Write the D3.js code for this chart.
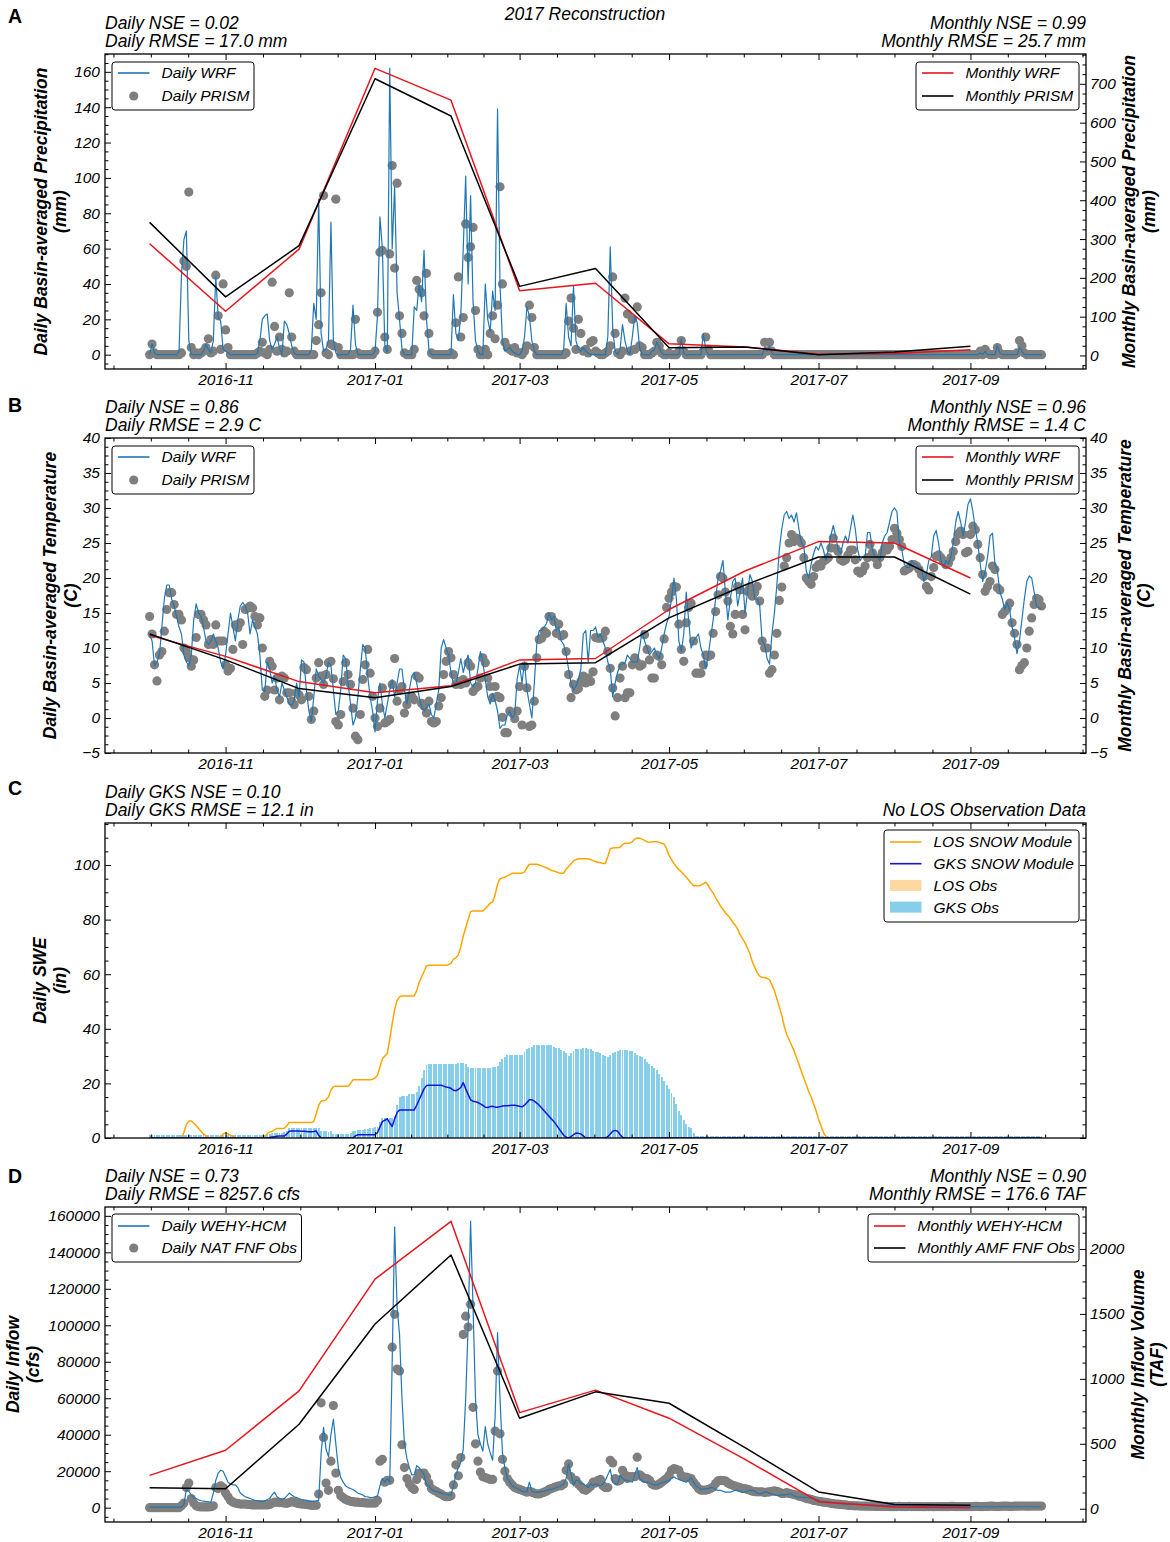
<!DOCTYPE html>
<html>
<head>
<meta charset="utf-8">
<script src="https://cdn.jsdelivr.net/npm/d3@7"></script>
<style>
    body { margin: 0; background: #fff; }
</style>
</head>
<body>
<svg id="fig" width="1170" height="1542"></svg>
<script>
// daily values run from 2016-10-01 to 2017-09-30, one number per day, grouped by month

// ---- panel A : precipitation (mm) ----
var precipWrf = [
    0,6,1,0,0,0,0,0,0,0, 0,0,2,45,65,70,8,0,0,0, 0,0,2,6,3,1,8,44,21,19, 3,
    2,1,0,0,0,0,0,0,0,0, 0,0,0,1,8,20,22,23,8,3, 6,10,4,0,19,17,12,5,1,0,
    0,0,0,0,0,3,29,20,88,12, 2,3,8,75,8,1,0,0,0,0, 0,3,28,6,0,0,0,0,0,0, 0,
    2,22,78,60,5,1,162,60,95,35, 20,3,0,0,0,0,27,25,40,30, 59,20,3,0,0,0,0,0,0,0, 0,
    0,34,12,8,22,60,101,40,90,30, 8,2,0,0,40,20,13,36,25,139, 40,8,2,3,4,2,1,0,
    0,2,10,27,22,8,2,0,0,0, 0,0,0,0,0,0,0,0,3,29, 10,5,39,8,3,2,4,2,1,0, 0,
    0,0,0,0,0,10,61,15,2,0, 3,17,8,2,0,10,22,18,4,0, 0,0,0,2,3,7,4,1,0,0,
    0,0,0,0,0,9,1,0,0,0, 0,0,0,0,12,3,0,0,0,0, 0,0,0,0,0,0,0,0,0,0, 0,
    0,0,0,0,0,0,0,0,4,2, 5,1,0,0,0,0,0,0,0,0, 0,0,0,0,0,0,0,0,0,0,
    0,0,0,0,0,0,0,0,0,0, 0,0,0,0,0,0,0,0,0,0, 0,0,0,0,0,0,0,0,0,0, 0,
    0,0,0,0,0,0,0,0,0,0, 0,0,0,0,0,0,0,0,0,0, 0,0,0,0,0,0,0,0,0,0, 0,
    0,0,0,0,1,0,2,0,0,0, 0,5,1,0,0,0,0,0,0,0, 4,2,0,0,0,0,0,0,0,0
];
var precipPrism = [
    0,6,1,0,0,0,0,0,0,0, 0,0,0,1,53,50,92,4,0,1, 0,1,2,4,9,1,2,45,22,3, 40,
    14,4,0,0,0,0,0,0,0,0, 0,0,0,1,2,7,1,0,3,41, 16,2,10,3,1,2,35,10,2,0,
    0,0,0,0,0,0,0,8,17,35, 90,1,0,6,5,88,4,0,0,0, 0,0,0,20,1,0,0,0,0,0, 0,
    2,24,58,59,10,3,57,107,49,97, 22,12,1,0,0,0,3,42,37,35, 22,46,12,1,0,0,0,0,0,0, 0,
    1,0,18,44,10,21,74,55,61,72, 25,3,0,0,3,0,12,22,9,28, 95,40,7,4,3,2,4,1,
    1,0,2,5,28,21,4,0,0,0, 0,0,0,0,0,0,0,0,0,1, 19,32,15,3,20,12,2,3,1,7, 8,
    2,1,0,0,1,2,5,44,12,1, 0,2,32,23,2,20,3,27,5,4, 0,0,0,1,2,7,5,1,0,0,
    1,0,0,0,2,8,2,0,0,0, 0,0,0,0,2,10,3,0,0,0, 0,0,0,0,0,0,0,0,0,0, 0,
    0,0,0,0,0,0,0,0,7,2, 7,2,0,0,0,0,0,0,0,0, 0,0,0,0,0,0,0,0,0,0,
    0,0,0,0,0,0,0,0,0,0, 0,0,0,0,0,0,0,0,0,0, 0,0,0,0,0,0,0,0,0,0, 0,
    0,0,0,0,0,0,0,0,0,0, 0,0,0,0,0,0,0,0,0,0, 0,0,0,0,0,0,0,0,0,0, 0,
    0,0,0,0,2,0,3,1,0,0, 0,4,1,0,0,0,0,0,0,1, 8,5,1,0,0,0,0,0,0,0
];
var precipWrfMonthly = [288, 114, 274, 740, 658, 167, 186, 30, 22, 3, 5, 15];
var precipPrismMonthly = [343, 151, 283, 713, 617, 178, 224, 20, 22, 2, 9, 24];

// ---- panel B : temperature (C) ----
var tempWrf = [
    12,11,7.5,8,9,13,17,19,19,17, 16,14.5,13,12,9,8,7.5,9,14,16.3, 15,14.5,13,11,10.5,11,12,11,10,8, 7,
    9,12,15,13,11,14,16,16.5,16,15, 12,14,13,12,9,4,3.8,8,7,5, 6,4,3,5,4,3,2,1.8,2.5,5,
    3,8.3,8,4,1,-0.5,3,7,6,5.5, 5,6,8,7.5,4,0.5,1,4,9,8.5, 5,2,-1,0,3,7,10.5,10,6,3, 1,
    -2,2.5,5,2,0,2,4,5.5,3,5, 7,7,4,2,4,6,6.5,5,3,1.5, 1,1.5,2,0.5,0,2,4,10,11.2,10, 9,
    6.5,5,4.8,6.5,8.5,6.5,8,9,5,4.5, 5,7,9.5,8,5.5,3,2,3.5,2.5,1, -1.5,-1,-1,0.5,1,0,0.5,5.5,
    7.5,5,8,4,2,0,5,10.5,12.5,12.5, 13,13.5,15,14,14.5,12.5,13,11,10.5,9, 7,5,4,4.5,5.5,7,12,12.5,8,12.5, 12.5,
    13,11.5,12,11,10,8,7,3,5,6.5, 7.5,7.8,7.8,9,8.5,8,8,8,10,12.5, 11,10,9,9.5,10,9,8.5,10,12,13.5,
    14.5,17,20,17,11,9.5,12,18,14,10, 11,11.5,12,10,9,7,9,11.5,14,17, 20,21,22.5,18,14,17,19.5,20,16,18, 20,
    15,18,20.5,19.5,17,17,16,11,10.5,8.5, 7.7,12,15,19,24,27,29,29.5,28.5,29, 28,29.3,27,25,24.5,21,20,22,23.5,24.5,
    24,25,24,22.5,24,26,27.5,26,24,23.5, 25,26,25,27,29,27,24,22.5,23,23, 26.5,26.5,24,23,23,22.5,25,26,26.5,28, 29.5,
    30,29.5,25,24,22,21.5,21.5,22.5,22,22, 21.5,21.5,19.5,20.5,22.5,23,26,26.8,25,22.5, 21.5,22.5,22,23,25,28,29.5,28,26,28, 30.5,
    31.3,29.5,27,25,22,19.5,21,23,26,26.4, 22,21,18,17,15.5,16.5,15.5,13,11.5,9.2, 11,14,17,19.5,20.3,20,18,16,15.7,15.7
];
var tempPrism = [
    14.5,12,7.6,5.3,9,9.5,12.4,15.5,17.9,17.9, 16.2,14.8,14.8,14,10,9.5,8.6,7.4,8.3,11.5, 14.8,14.8,14,13.3,10.5,11.2,10.5,13.3,11,11, 11,
    7.6,6.7,7.1,9.8,13.3,12.9,13.6,10.5,15.5,15.7, 16,15.7,14.5,13.3,14.3,10,3.1,4,8.1,7.4, 4,5.7,2.6,6,5.7,3.6,3.6,2.4,1.9,3.6,
    3.3,2.6,7.2,6.9,3.1,-0.2,1,5.7,7.9,6, 4.8,6.2,7.9,8.1,5.6,-0.5,-1,0.5,5.2,7.9, 6.2,4.8,1.4,-2.6,-3.1,0.5,5.5,7.6,9.8,6.4, 3.1,
    0,-1.2,1.4,4.3,-0.7,-0.5,-0.2,4.8,8.5,2.4, 4,4.5,0.7,1.9,2.9,3.1,2.6,6,5.7,2.1, 1.7,0.7,2.4,-0.5,-0.7,-0.5,1.7,2.9,6.2,8.1, 9.5,
    8.6,6.2,4.8,5.2,4.8,5.5,5,7.9,7.4,3.8, 4.3,4.5,5.7,8.6,7.9,5.7,4.5,2.9,4.5,3.1, 2.9,0.1,-2.1,-2.1,1,0.7,-0.1,1,
    4.5,-1,7.4,4.3,-1.2,-1,2.4,8.6,11.2,11.4, 12.4,12.1,14.5,14.5,13.8,12.1,13.4,11.7,11.9,9.5, 6.2,2.9,4.8,4,4.2,5.2,6,5,5.7,5.2, 6.6,
    11.5,11.4,11.4,11.5,12.4,9.5,7.1,4.3,0.3,2.9, 5.7,7.4,2.9,3.6,3.6,7.6,8.6,7.9,7.4,7.6, 11.9,9.8,8.3,5.7,5.7,9,8.8,7.6,11.3,15.8,
    17.1,18,18.8,18.7,13.4,9.8,8.1,13.6,15.8,16.4, 11,6.4,6.4,6.4,7.6,9,8.8,9,12.1,15.2, 17.6,20.2,20,18,16.7,13.1,12,14.8,18.8,18.3, 14.8,
    12.6,18.1,18.7,17.4,18,18.8,16.7,11,10,10, 6.4,6.9,9,12.1,16.8,18.7,21.7,22.9,25,26.2, 25.2,25.7,25.5,25,22.9,20,19.5,19.1,20.2,21.5,
    21.9,21.7,22.4,22.6,22.9,24.3,25.7,24.2,23.8,22.6, 22.4,22.6,23.3,24,24,22.6,21,20.7,21,21.7, 22.9,24.8,23.6,22.9,21.9,22.9,23.6,24.3,24,24.5, 25.5,
    27.1,26.4,25.5,24.5,21,21.2,21.4,21.9,21.9,21.7, 21.2,20.5,20.2,18.8,18.3,20.2,21.5,23.1,23.3,22.9, 22.4,21.9,22.1,22.9,23.8,25.2,26.3,26.7,26.2,23.6, 23.8,
    26.2,27.4,26.9,24.8,22.9,20.5,18.1,18.8,19.5,21.7, 21.2,18.6,18.3,14.8,15.2,15.7,16.4,13.6,12.1,10.5, 6.9,7.5,7.9,10,12.4,14.3,16.2,17.1,16.9,16
];
var tempWrfMonthly = [11.8, 8.8, 5.2, 3.6, 4.6, 8.3, 8.5, 15.5, 21, 25.2, 25, 20];
var tempPrismMonthly = [12, 8.3, 4.2, 2.9, 4.5, 7.7, 7.9, 14.3, 19, 23, 23, 17.7];

// ---- panel C : snow water equivalent (in) ----
var losSnowModule = [
    0,0,0,0,0,0,0,0,0,0, 0,0,0,0,2,5,6.2,6.2,5.5,4.5, 3.5,2.5,1.5,0.8,0.3,0,0,0,0,0.5, 1.5,
    1.8,1.5,1,0.5,0.2,0,0,0,0,0, 0,0,0,0,0,0,0.5,1.5,2.2,2.5, 3,3.5,3.5,3.5,3.6,4.5,5.7,5.7,5.7,5.7,
    5.7,5.7,5.7,5.7,5.7,5.7,6,9,12,13.5, 13.7,14,15,17.5,18.8,19,19,19,19,19, 19,20,21.3,21.3,21.3,21.3,21.3,21.3,21.3,21.3, 21.5,
    22,23,26,29,30,31,36,42,47,50.5, 51.7,52,52,52,52,52,52,54,57,59, 61,63,63.3,63.3,63.3,63.3,63.3,63.3,63.3,63.3, 63.5,
    64,65.5,66,67,70,74,77,80,83,83.2, 83.2,83.2,83.2,83.2,84,85,86,86.5,89,93, 95,95.3,95.5,96,96.5,97,97,97,
    97,97,97.5,99,100.3,100.3,100.3,100.3,100,99.7, 99.3,99,98.5,98,97.8,97.5,97.2,97,97,98.5, 99.5,100.5,101.5,102,102.3,102.3,102.3,102.3,102.2,102, 101.6,
    101.3,101,100.8,100.6,100.6,103,106,106.2,106.3,106.3, 106.5,107.5,108,108,108,108.5,109.5,109.9,109.8,109.5, 109,108.5,108.3,108.5,108.5,108.5,108.3,108,107.7,106,
    103.5,102,100.5,99.3,98.3,97.5,96.5,95.5,94.5,93.3, 92.4,92.4,92.4,92.6,93.2,93.7,92.5,91,89.8,88, 86.5,85,83.8,82.5,81.5,80.5,79,78,76.5,74.5, 73,
    71.5,69.5,67.5,64.5,62.5,60.5,59.3,58.8,58.8,58.5, 58,56,54,51,48,45,41,38,36,34, 32,29.5,27,24.4,22,19.5,17,15,12.5,10,
    7,4.5,2,0.5,0,0,0,0,0,0, 0,0,0,0,0,0,0,0,0,0, 0,0,0,0,0,0,0,0,0,0, 0,
    0,0,0,0,0,0,0,0,0,0, 0,0,0,0,0,0,0,0,0,0, 0,0,0,0,0,0,0,0,0,0, 0,
    0,0,0,0,0,0,0,0,0,0, 0,0,0,0,0,0,0,0,0,0, 0,0,0,0,0,0,0,0,0,0
];
var gksSnowModule = [
    0,0,0,0,0,0,0,0,0,0, 0,0,0,0,0,0,0,0,0,0, 0,0,0,0,0,0,0,0,0,0, 0,
    0,0,0,0,0,0,0,0,0,0, 0,0,0,0,0,0,0,0,0.2,0.4, 0.5,0.6,0.7,0.7,0.7,1.5,2.5,2.6,2.6,2.6,
    2.6,2.5,2.5,2.4,2.3,2.3,2.4,2.6,1,0, 0,0,0,0,0,0,0,0,0,0, 0,0,0,0.8,1.2,1.2,1.2,1.2,1.2,1.2, 1.2,
    1.2,2,4,6,6.5,7,5.5,4.2,7,9.3, 10.3,10.3,10.3,10.3,10.3,10.3,10.3,12,14,16, 18,19.2,19.3,19.3,19.3,19.3,19.3,19.3,19,18.7, 18.5,
    18.2,17.5,17.3,17.8,18.5,20.3,18,16,14,13.5, 13.3,13,12.5,12,11.3,11.2,11.5,11.6,11.3,11.3, 11.5,11.7,11.8,11.8,11.9,12,12,11.8,
    11.6,11.4,12,13,14,14,13.5,12.8,12,11, 10,9,8,7,6,4.8,3.5,2.3,1,0.3, 0,0.5,1.2,1.8,1.7,1.5,0.8,0,0,0, 0,
    0,0,0,0,0,0.5,1.5,2.5,2.8,2.5, 1.3,0.3,0,0,0,0,0,0,0,0, 0,0,0,0,0,0,0,0,0,0,
    0,0,0,0,0,0,0,0,0,0, 0,0,0,0,0,0,0,0,0,0, 0,0,0,0,0,0,0,0,0,0, 0,
    0,0,0,0,0,0,0,0,0,0, 0,0,0,0,0,0,0,0,0,0, 0,0,0,0,0,0,0,0,0,0,
    0,0,0,0,0,0,0,0,0,0, 0,0,0,0,0,0,0,0,0,0, 0,0,0,0,0,0,0,0,0,0, 0,
    0,0,0,0,0,0,0,0,0,0, 0,0,0,0,0,0,0,0,0,0, 0,0,0,0,0,0,0,0,0,0, 0,
    0,0,0,0,0,0,0,0,0,0, 0,0,0,0,0,0,0,0,0,0, 0,0,0,0,0,0,0,0,0,0
];
var gksObs = [
    1,1,1,1,1,1,1,1,1,1, 1,1,1,1,1,1,1,1,1,1, 1,1,1,1,1,1,1,1,1,1, 1,
    1,1,1,1,1,1,1,1,1,1, 1,1,1,1,1,1,1,1.2,1.5,2, 2,2,2,2,2.2,2.5,3.5,3.8,3.8,3.8,
    3.8,3.8,3.8,3.8,3.8,3.8,3.8,3.8,3.5,2.5, 2.5,2.5,2.2,2.5,1.5,1.5,1.5,1.5,1.5,1.5, 1.5,2,2.5,2.5,2.8,3,3,3.2,3.3,3.5, 3.5,
    4,4,6,7.5,7.5,7.5,7.5,7.5,8,12, 15,15.5,15.5,15.5,16,16,16,17,19,22, 25,26.8,27,27,27,27,27,27,27,27, 27,
    27,27.2,27,27.3,27.5,27.5,27,26,25.8,25.8, 25.8,25.8,25.8,25.8,25.8,25.8,25.8,26,26,26.2, 28,29,29.5,30.3,30.5,30.5,30.5,30.5,
    30.5,30.5,31.5,32.5,33,33.5,34,34.2,34.2,34.2, 34.2,34.2,34.2,34,33.5,33,32.8,32.3,31.8,31, 30,31,32,32.5,32.6,32.6,32.8,32.8,32.6,32.6, 32,
    31.5,31.5,31,30.5,30,29.8,30.5,31,31.5,32, 32.3,32.3,32.3,32.3,32,31.8,31,30.3,30,29.5, 29,28,27,26.5,25.5,25,23.5,22.5,21,19.5,
    18,16.5,15,12.5,10,8.5,6.5,5,4,3.5, 2,0.6,0.6,0.6,0.6,0.6,0.6,0.6,0.6,0.6, 0.6,0.6,0.6,0.6,0.6,0.6,0.6,0.6,0.6,0.6, 0.6,
    0.6,0.6,0.6,0.6,0.6,0.6,0.6,0.6,0.6,0.6, 0.6,0.6,0.6,0.6,0.6,0.6,0.6,0.6,0.6,0.6, 0.6,0.6,0.6,0.6,0.6,0.6,0.6,0.6,0.6,0.6,
    0.6,0.6,0.6,0.6,0.6,0.6,0.6,0.6,0.6,0.6, 0.6,0.6,0.6,0.6,0.6,0.6,0.6,0.6,0.6,0.6, 0.6,0.6,0.6,0.6,0.6,0.6,0.6,0.6,0.6,0.6, 0.6,
    0.6,0.6,0.6,0.6,0.6,0.6,0.6,0.6,0.6,0.6, 0.6,0.6,0.6,0.6,0.6,0.6,0.6,0.6,0.6,0.6, 0.6,0.6,0.6,0.6,0.6,0.6,0.6,0.6,0.6,0.6, 0.6,
    0.6,0.6,0.6,0.6,0.6,0.6,0.6,0.6,0.6,0.6, 0.6,0.6,0.6,0.6,0.6,0.6,0.6,0.6,0.6,0.6, 0.6,0.6,0.6,0.6,0.6,0.6,0.6,0.6,0.6,0.6
];

// ---- panel D : inflow, daily in thousand cfs, monthly in TAF ----
var inflowModelKcfs = [
    0.3,0.3,0.3,0.3,0.3,0.3,0.3,0.3,0.3,0.3, 0.3,0.3,0.3,0.3,2,10,9,7,5.5,5, 4.3,3.8,3.6,3.4,3.2,3,8,15,19,20.5, 20,
    17,14,13,12.5,12.5,11,8,7,6,5.5, 5,4.5,4,3.8,3.6,3.5,3.7,4.5,5,7, 8.5,6,5,4.5,5,6.5,8,7,6,5.5,
    5,4.5,4.2,4,3.5,3.5,3.6,3.7,4,30, 44,32,28,40,48.5,35,22,16.5,14,12, 11,10.5,10,9,8,7.5,7,6,6,5.5, 5.5,
    6,6.5,12,16,14,16,14,80,154,110, 95,60,35,27,22,18,18,23,22,20, 18,13,12,10,9.5,9,8.5,8,7.5,7.5, 7,
    7,12,18,22,25,32,60,100,157,110, 60,40,35,31,44.5,35,30,26,50,96, 60,30,22,16,14,12,11,10.5,
    10,9,8.5,9,14,9,8.5,8.5,8.5,9, 9,9.5,10,10,10.5,11,11.5,12,13,16, 24,18.5,12,15,15,13,13,12,11,13, 12,
    13,12.5,12,13,15,18,21,14,13,13, 18,16,15,15,14.5,14,18,22,16,15, 14,14,13.5,13,12.5,12.5,13,13.5,14,14.5,
    15,16,17,16,15.5,15,14.5,14,15,16.5, 14,12,11,10,10,10.5,10.5,11,11,10, 9.5,9.5,9,8.5,8.5,8.5,9,9.5,9.5,9, 8.5,
    8.5,9,9.5,9.5,9,8,7.5,8,8.5,8.5, 8,7.5,7,6.8,6.8,7,7,7.2,7.5,7.5, 6.5,6,5.8,5.7,5.6,5.5,5.3,5.2,5,4.5,
    4,3.5,3.3,3.1,3,2.8,2.6,2.5,2.4,2.2, 2.1,2,2,1.9,1.9,1.8,1.8,1.8,1.7,1.7, 1.6,1.6,1.5,1.4,1.4,1.3,1.3,1.2,1.2,1.2, 1.1,
    1.1,1,1,1,1,0.9,0.9,0.9,0.9,0.9, 0.8,0.8,0.8,0.8,0.8,0.7,0.7,0.7,0.7,0.7, 0.7,0.6,0.6,0.6,0.6,0.6,0.6,0.6,0.6,0.6, 0.6,
    0.6,0.6,0.6,0.6,0.6,0.5,0.5,0.5,0.5,0.5, 0.5,0.5,0.5,0.5,0.5,0.5,0.5,0.5,0.5,0.5, 0.5,0.5,0.5,0.5,0.5,0.5,0.5,0.5,0.5,0.5
];
var inflowObsKcfs = [
    0,0,0,0,0,0,0,0,0,0, 0,0,0,1,2.5,11,13.5,5,2.5,1, 0.5,0.4,0.4,0.4,0.4,0.5,1,11,10.5,12, 11,
    8,6,4,3,2.5,2.2,2,2,2,1.8, 1.7,1.5,1.5,1.5,1.5,1.5,1.5,1.5,1.8,2.5, 3,3,2.8,2.7,2.5,2.4,2.8,3.3,3,2.5,
    2.2,2,1.9,1.8,1.5,1.3,1.3,1.3,7.5,57.5, 38.5,13.5,9.5,25.5,56,19,9.5,6.5,5.5,4.5, 4,3.5,3.3,3,3,2.8,2.8,2.6,2.5,2.5, 2.5,
    2.5,4,25.5,26.5,14,15,15,88,106,76, 75,34.5,22,16,13,11,10,15.5,19,18.5, 19,17,13.5,10.5,9.5,9,8,7.5,6.5,6, 6,
    6.5,12.5,23.5,17.5,27.5,95,105,99,111.5,55, 35,25.5,19.5,17,16.5,16,15.5,15.5,42,75, 40.5,26.5,20,16,14,12.5,11,10.5,
    10,9.5,9,8.5,9,8.5,8,7.5,7.5,8, 8.5,9,10,10.5,11,11.5,12,12,13,20.5, 24,17,15,15,13,11.5,10,9.5,10.5,11.8, 14,
    13.5,15,15.5,12,11,11,26,24.5,16,14.5, 15,20.5,18,16,17,17,17,27.7,18,17, 16,16,15,13,12.3,12.3,13,14,15,16,
    17.8,20.5,21.4,21,20.5,17.8,16.8,16.8,16.4,16, 14,12.3,10.5,9.6,9.6,9.6,10,10.5,11.4,13.2, 14.7,15,14.8,14.7,13.6,12.9,12.3,11.8,11.4,11, 10.5,
    10.5,10,9.6,9,8.8,8.7,8.7,8.7,8.3,8.5, 8.7,9,9.2,8.9,8.5,7.8,7.8,8.3,7.8,7.5, 7.2,6.9,6.3,6,5.6,5,4.8,4.5,4,3.8,
    3.5,3.3,3,2.9,2.7,2.4,2.2,2,1.9,1.8, 1.6,1.5,1.3,1.2,1.1,1,1,0.9,0.9,0.9, 0.8,0.8,0.8,0.7,0.7,0.7,0.7,0.7,0.7,0.6, 0.6,
    0.6,0.6,0.7,0.6,0.6,0.6,0.7,0.6,0.6,0.6, 0.6,0.6,0.5,0.6,0.6,0.6,0.5,0.6,0.6,0.6, 0.6,0.6,0.6,0.7,0.7,0.6,0.6,0.6,0.6,0.6, 0.6,
    0.6,0.6,0.7,0.7,0.6,0.6,0.7,0.7,0.8,0.8, 0.7,0.7,0.7,0.8,0.8,0.8,0.7,0.7,0.8,0.8, 0.9,0.9,0.9,0.8,0.8,0.9,0.9,0.9,0.9,0.9
];
var inflowModelMonthly = [257, 450, 907, 1768, 2213, 740, 913, 697, 380, 54, 13, 8];
var inflowObsMonthly = [162, 154, 650, 1422, 1954, 697, 900, 812, 470, 129, 33, 26];

// tick labels
var precipTicks = [0, 20, 40, 60, 80, 100, 120, 140, 160];
var precipMonthTicks = [0, 100, 200, 300, 400, 500, 600, 700];
var tempTicks = [-5, 0, 5, 10, 15, 20, 25, 30, 35, 40];
var sweTicks = [0, 20, 40, 60, 80, 100];
var inflowTicks = [0, 20000, 40000, 60000, 80000, 100000, 120000, 140000, 160000];
var volumeTicks = [0, 500, 1000, 1500, 2000];

var FONT = "'Liberation Sans', Arial, Helvetica, sans-serif";
var left = 105, right = 1086, panelH = 315;
var blue = "#1f77b4", grey = "#7f7f7f", red = "#e8141c";

var svg = d3.select("#fig");
var start = new Date(Date.UTC(2016, 9, 1));

function dayDate(i){
    return d3.utcDay.offset(start, i);
}

var monthDates = d3.utcMonth.range(start, new Date(Date.UTC(2017, 9, 1)));

// matplotlib-like 5% margins on the date range
var x = d3.scaleUtc()
    .domain([d3.utcHour.offset(start, -18.2 * 24), d3.utcHour.offset(dayDate(364), 18.2 * 24)])
    .range([left, right]);

var xMajor = x.ticks(d3.utcMonth.every(2));
var xMinor = [];
(function(){
    var ext = [new Date(Date.UTC(2016, 8, 1))].concat(xMajor, [new Date(Date.UTC(2017, 10, 1))]);
    for (var i = 0; i < ext.length - 1; i++) {
        for (var k = 1; k < 4; k++) {
            var t = new Date(+ext[i] + (ext[i + 1] - ext[i]) * k / 4);
            if (t >= x.domain()[0] && t <= x.domain()[1]) xMinor.push(t);
        }
    }
})();

function pad(ext){
    var m = (ext[1] - ext[0]) * 0.05;
    return [ext[0] - m, ext[1] + m];
}

function daily(values, mult){
    return values.map(function(v, i){
        return {date: dayDate(i), v: v * (mult || 1)};
    });
}

function monthly(values){
    return values.map(function(v, i){
        return {date: monthDates[i], v: v};
    });
}

function minorTicks(domain, step){
    var out = [];
    var s = step / 4;
    for (var v = Math.ceil(domain[0] / s) * s; v <= domain[1]; v += s) {
        if (Math.abs(v / step - Math.round(v / step)) > 1e-6) out.push(v);
    }
    return out;
}

function styleAxis(sel){
    sel.select(".domain").remove();
    sel.attr("font-family", FONT).attr("font-size", 15.5);
    sel.selectAll("line").attr("stroke", "#000").attr("stroke-width", 1);
    sel.selectAll("text").attr("font-style", "italic").attr("fill", "#000");
}

function makePanel(top){
    var id = "clip" + top;
    svg.append("clipPath").attr("id", id)
        .append("rect")
        .attr("x", left).attr("y", top)
        .attr("width", right - left).attr("height", panelH);
    var g = svg.append("g");
    return {g: g, top: top, bottom: top + panelH, clip: "url(#" + id + ")"};
}

function drawXAxes(p){
    p.g.append("g")
        .attr("transform", "translate(0," + p.bottom + ")")
        .call(d3.axisBottom(x).tickValues(xMajor).tickFormat(d3.utcFormat("%Y-%m"))
            .tickSizeInner(-6).tickSizeOuter(0).tickPadding(4.5))
        .call(styleAxis);
    p.g.append("g")
        .attr("transform", "translate(0," + p.bottom + ")")
        .call(d3.axisBottom(x).tickValues(xMinor).tickFormat("").tickSizeInner(-3.5).tickSizeOuter(0))
        .call(styleAxis);
    p.g.append("g")
        .attr("transform", "translate(0," + p.top + ")")
        .call(d3.axisTop(x).tickValues(xMajor).tickFormat("").tickSizeInner(-6).tickSizeOuter(0))
        .call(styleAxis);
    p.g.append("g")
        .attr("transform", "translate(0," + p.top + ")")
        .call(d3.axisTop(x).tickValues(xMinor).tickFormat("").tickSizeInner(-3.5).tickSizeOuter(0))
        .call(styleAxis);
}

function drawYAxis(p, y, ticks, side, labels){
    var step = ticks[1] - ticks[0];
    var isLeft = side == "left";
    var axis = isLeft ? d3.axisLeft(y) : d3.axisRight(y);
    var axisMinor = isLeft ? d3.axisLeft(y) : d3.axisRight(y);
    var xx = isLeft ? left : right;
    p.g.append("g")
        .attr("transform", "translate(" + xx + ",0)")
        .call(axis.tickValues(ticks).tickFormat(labels ? d3.format("d") : "")
            .tickSizeInner(-6).tickSizeOuter(0).tickPadding(isLeft ? 5 : 4))
        .call(styleAxis);
    p.g.append("g")
        .attr("transform", "translate(" + xx + ",0)")
        .call(axisMinor.tickValues(minorTicks(y.domain(), step)).tickFormat("")
            .tickSizeInner(-3.5).tickSizeOuter(0))
        .call(styleAxis);
}

function drawFrame(p){
    p.g.append("rect")
        .attr("x", left).attr("y", p.top)
        .attr("width", right - left).attr("height", panelH)
        .attr("fill", "none").attr("stroke", "#000").attr("stroke-width", 1.3);
}

function drawLine(p, data, y, color, width){
    p.g.append("path")
        .datum(data)
        .attr("clip-path", p.clip)
        .attr("fill", "none")
        .attr("stroke", color)
        .attr("stroke-width", width)
        .attr("stroke-linejoin", "round")
        .attr("d", d3.line()
            .x(function(d){ return x(d.date); })
            .y(function(d){ return y(d.v); }));
}

function drawDots(p, data, y){
    p.g.append("g")
        .attr("clip-path", p.clip)
        .selectAll("circle")
        .data(data)
        .enter()
        .append("circle")
        .attr("cx", function(d){ return x(d.date); })
        .attr("cy", function(d){ return y(d.v); })
        .attr("r", 4.6)
        .attr("fill", grey);
}

function drawLegend(p, box, items){
    var lg = p.g.append("g");
    lg.append("rect")
        .attr("x", box.x).attr("y", p.top + box.y)
        .attr("width", box.w).attr("height", box.h)
        .attr("rx", 3)
        .attr("fill", "#fff").attr("fill-opacity", 0.85)
        .attr("stroke", "#000").attr("stroke-width", 1);
    items.forEach(function(it, i){
        var cy = p.top + box.y + box.first + i * box.step;
        var x0 = box.x + 6, x1 = box.x + 37.5;
        if (it.type == "line") {
            lg.append("line")
                .attr("x1", x0).attr("x2", x1).attr("y1", cy).attr("y2", cy)
                .attr("stroke", it.color).attr("stroke-width", 1.6);
        } else if (it.type == "dot") {
            lg.append("circle")
                .attr("cx", (x0 + x1) / 2).attr("cy", cy).attr("r", 4.6)
                .attr("fill", grey);
        } else {
            lg.append("rect")
                .attr("x", x0).attr("y", cy - 5.5).attr("width", x1 - x0).attr("height", 11)
                .attr("fill", it.color);
        }
        lg.append("text")
            .attr("x", box.x + 49.5).attr("y", cy)
            .attr("dy", "0.35em")
            .attr("font-family", FONT).attr("font-size", 15.5).attr("font-style", "italic")
            .text(it.label);
    });
}

function cornerText(p, lines, side){
    lines.forEach(function(t, i){
        svg.append("text")
            .attr("x", side == "left" ? left : right)
            .attr("y", p.top - 7 - 18.5 * (lines.length - 1 - i))
            .attr("text-anchor", side == "left" ? "start" : "end")
            .attr("font-family", FONT).attr("font-size", 17.5).attr("font-style", "italic")
            .text(t);
    });
}

function axisLabel(p, lines, xs){
    lines.forEach(function(t, i){
        svg.append("text")
            .attr("transform", "translate(" + xs[i] + "," + (p.top + p.bottom) / 2 + ") rotate(-90)")
            .attr("text-anchor", "middle")
            .attr("dominant-baseline", "central")
            .attr("font-family", FONT).attr("font-size", 17.5)
            .attr("font-style", "italic").attr("font-weight", "bold")
            .text(t);
    });
}

function panelLetter(letter, y){
    svg.append("text")
        .attr("x", 8).attr("y", y)
        .attr("font-family", FONT).attr("font-size", 19.5).attr("font-weight", "bold")
        .text(letter);
}

var legendLeft = {x: 112, y: 8, w: 142, h: 48, first: 11, step: 23};
var legendRight = {x: 916, y: 8, w: 163, h: 48, first: 11, step: 23};

// ---------------- A ----------------
(function(){
    var p = makePanel(54);
    var y = d3.scaleLinear().domain(pad(d3.extent(precipWrf.concat(precipPrism)))).range([p.bottom, p.top]);
    var y2 = d3.scaleLinear().domain(pad(d3.extent(precipWrfMonthly.concat(precipPrismMonthly)))).range([p.bottom, p.top]);

    drawDots(p, daily(precipPrism), y);
    drawLine(p, daily(precipWrf), y, blue, 1.2);
    drawLine(p, monthly(precipWrfMonthly), y2, red, 1.5);
    drawLine(p, monthly(precipPrismMonthly), y2, "#000", 1.5);

    drawXAxes(p);
    drawYAxis(p, y, precipTicks, "left", true);
    drawYAxis(p, y2, precipMonthTicks, "right", true);
    drawFrame(p);

    drawLegend(p, legendLeft, [
        {type: "line", color: blue, label: "Daily WRF"},
        {type: "dot", label: "Daily PRISM"}
    ]);
    drawLegend(p, legendRight, [
        {type: "line", color: red, label: "Monthly WRF"},
        {type: "line", color: "#000", label: "Monthly PRISM"}
    ]);

    cornerText(p, ["Daily NSE = 0.02", "Daily RMSE = 17.0 mm"], "left");
    cornerText(p, ["Monthly NSE = 0.99", "Monthly RMSE = 25.7 mm"], "right");
    axisLabel(p, ["Daily Basin-averaged Precipitation", "(mm)"], [41, 60]);
    axisLabel(p, ["Monthly Basin-averaged Precipitation", "(mm)"], [1129, 1149]);
    panelLetter("A", 23);

    svg.append("text")
        .attr("x", 585).attr("y", 20)
        .attr("text-anchor", "middle")
        .attr("font-family", FONT).attr("font-size", 17.5).attr("font-style", "italic")
        .text("2017 Reconstruction");
})();

// ---------------- B ----------------
(function(){
    var p = makePanel(438);
    var y = d3.scaleLinear().domain([-5, 40]).range([p.bottom, p.top]);

    drawDots(p, daily(tempPrism), y);
    drawLine(p, daily(tempWrf), y, blue, 1.2);
    drawLine(p, monthly(tempWrfMonthly), y, red, 1.5);
    drawLine(p, monthly(tempPrismMonthly), y, "#000", 1.5);

    drawXAxes(p);
    drawYAxis(p, y, tempTicks, "left", true);
    drawYAxis(p, y, tempTicks, "right", true);
    drawFrame(p);

    drawLegend(p, legendLeft, [
        {type: "line", color: blue, label: "Daily WRF"},
        {type: "dot", label: "Daily PRISM"}
    ]);
    drawLegend(p, legendRight, [
        {type: "line", color: red, label: "Monthly WRF"},
        {type: "line", color: "#000", label: "Monthly PRISM"}
    ]);

    cornerText(p, ["Daily NSE = 0.86", "Daily RMSE = 2.9 C"], "left");
    cornerText(p, ["Monthly NSE = 0.96", "Monthly RMSE = 1.4 C"], "right");
    axisLabel(p, ["Daily Basin-averaged Temperature", "(C)"], [50, 71]);
    axisLabel(p, ["Monthly Basin-averaged Temperature", "(C)"], [1125, 1144]);
    panelLetter("B", 412);
})();

// ---------------- C ----------------
(function(){
    var p = makePanel(823);
    var y = d3.scaleLinear().domain([0, d3.max(losSnowModule) * 1.05]).range([p.bottom, p.top]);
    var barW = x(d3.utcHour.offset(start, 0.8 * 24)) - x(start);

    p.g.append("g")
        .attr("clip-path", p.clip)
        .selectAll("rect")
        .data(daily(gksObs))
        .enter()
        .append("rect")
        .attr("x", function(d){ return x(d.date) - barW / 2; })
        .attr("width", barW)
        .attr("y", function(d){ return y(d.v); })
        .attr("height", function(d){ return y(0) - y(d.v); })
        .attr("fill", "#87ceeb")
        .attr("shape-rendering", "crispEdges");

    drawLine(p, daily(losSnowModule), y, "#ffa500", 1.5);
    drawLine(p, daily(gksSnowModule), y, "#1414d2", 1.5);

    drawXAxes(p);
    drawYAxis(p, y, sweTicks, "left", true);
    drawYAxis(p, y, sweTicks, "right", false);
    drawFrame(p);

    drawLegend(p, {x: 884, y: 7, w: 195, h: 92, first: 12, step: 21.7}, [
        {type: "line", color: "#ffa500", label: "LOS SNOW Module"},
        {type: "line", color: "#1414d2", label: "GKS SNOW Module"},
        {type: "patch", color: "#fdd8a0", label: "LOS Obs"},
        {type: "patch", color: "#87ceeb", label: "GKS Obs"}
    ]);

    cornerText(p, ["Daily GKS NSE = 0.10", "Daily GKS RMSE = 12.1 in"], "left");
    cornerText(p, ["No LOS Observation Data"], "right");
    axisLabel(p, ["Daily SWE", "(in)"], [40, 60]);
    panelLetter("C", 795);
})();

// ---------------- D ----------------
(function(){
    var p = makePanel(1207);
    var y = d3.scaleLinear()
        .domain(pad(d3.extent(inflowModelKcfs.concat(inflowObsKcfs)).map(function(v){ return v * 1000; })))
        .range([p.bottom, p.top]);
    var y2 = d3.scaleLinear().domain(pad(d3.extent(inflowModelMonthly.concat(inflowObsMonthly)))).range([p.bottom, p.top]);

    drawDots(p, daily(inflowObsKcfs, 1000), y);
    drawLine(p, daily(inflowModelKcfs, 1000), y, blue, 1.2);
    drawLine(p, monthly(inflowModelMonthly), y2, red, 1.5);
    drawLine(p, monthly(inflowObsMonthly), y2, "#000", 1.5);

    drawXAxes(p);
    drawYAxis(p, y, inflowTicks, "left", true);
    drawYAxis(p, y2, volumeTicks, "right", true);
    drawFrame(p);

    drawLegend(p, {x: 112, y: 7, w: 189.5, h: 48, first: 12, step: 22}, [
        {type: "line", color: blue, label: "Daily WEHY-HCM"},
        {type: "dot", label: "Daily NAT FNF Obs"}
    ]);
    drawLegend(p, {x: 868, y: 7, w: 211, h: 48, first: 12, step: 22}, [
        {type: "line", color: red, label: "Monthly WEHY-HCM"},
        {type: "line", color: "#000", label: "Monthly AMF FNF Obs"}
    ]);

    cornerText(p, ["Daily NSE = 0.73", "Daily RMSE = 8257.6 cfs"], "left");
    cornerText(p, ["Monthly NSE = 0.90", "Monthly RMSE = 176.6 TAF"], "right");
    axisLabel(p, ["Daily Inflow", "(cfs)"], [13, 33]);
    axisLabel(p, ["Monthly Inflow Volume", "(TAF)"], [1138, 1157]);
    panelLetter("D", 1183);
})();
</script>
</body>
</html>
